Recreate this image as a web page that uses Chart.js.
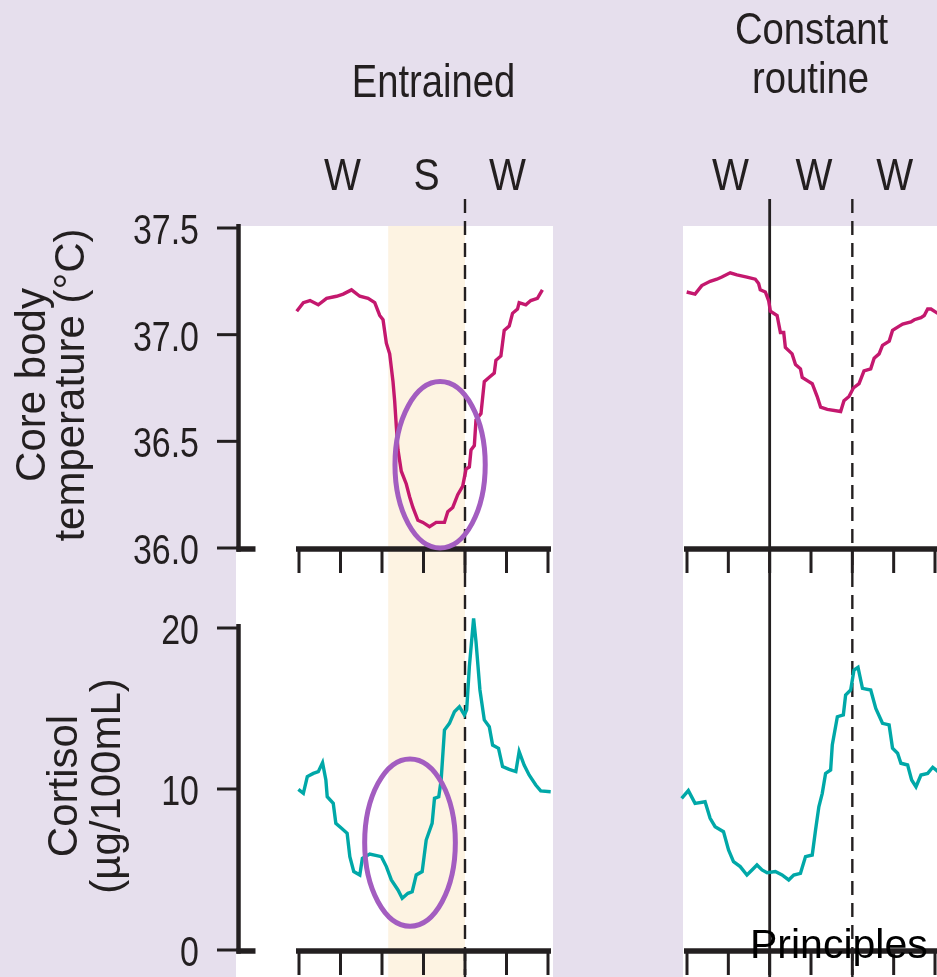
<!DOCTYPE html>
<html>
<head>
<title>Core body temperature and cortisol: entrained vs constant routine</title>
<script src="https://cdn.jsdelivr.net/npm/chart.js"></script>
<style>
  html, body { margin: 0; padding: 0; }
  body { width: 937px; height: 977px; position: relative; overflow: hidden; background: #e6dfed; }
  .panel { position: absolute; background: #ffffff; }
  canvas { position: absolute; left: 0; top: 0; }
</style>
</head>
<body>
<div class="panel" style="left:236px; top:226px; width:317px; height:751px;"></div>
<div class="panel" style="left:683px; top:226px; width:254px; height:751px;"></div>
<canvas id="tempEntrained" width="937" height="977"></canvas>
<canvas id="tempConstant" width="937" height="977"></canvas>
<canvas id="cortEntrained" width="937" height="977"></canvas>
<canvas id="cortConstant" width="937" height="977"></canvas>

<script>
// ---- data (hours from start of panel) ----
const tempEntrainedHours = [-0.70, -0.22, 0.42, 1.06, 1.86, 2.66, 3.62, 4.26, 5.06, 5.86,
  6.66, 7.30, 7.78, 8.10, 8.42, 8.74, 9.06, 9.22, 9.38, 9.54,
  9.86, 10.34, 10.66, 10.98, 11.46, 11.94, 12.58, 13.22, 14.02, 14.34,
  14.82, 15.30, 15.78, 16.10, 16.42, 16.58, 16.90, 17.06, 17.54, 17.86,
  18.34, 18.82, 18.98, 19.46, 19.78, 20.26, 20.58, 21.06, 21.22, 21.86,
  22.34, 22.98, 23.46];
const tempEntrained = [37.12, 37.11, 37.15, 37.16, 37.14, 37.17, 37.18, 37.19, 37.21, 37.18,
  37.17, 37.15, 37.09, 37.07, 36.96, 36.91, 36.78, 36.69, 36.57, 36.46,
  36.36, 36.30, 36.24, 36.19, 36.13, 36.12, 36.10, 36.12, 36.12, 36.17,
  36.19, 36.25, 36.29, 36.37, 36.38, 36.46, 36.48, 36.60, 36.63, 36.78,
  36.80, 36.82, 36.88, 36.90, 37.02, 37.04, 37.10, 37.12, 37.15, 37.14,
  37.16, 37.17, 37.21];

const tempConstantHours = [-0.03, 0.78, 1.43, 2.24, 2.89, 3.37, 4.18, 4.83, 5.80, 6.61,
  6.93, 7.09, 7.58, 7.90, 8.07, 8.72, 9.04, 9.36, 9.52, 10.17,
  10.50, 10.98, 11.15, 11.79, 12.12, 12.60, 12.93, 13.58, 14.87, 15.19,
  15.68, 16.10, 16.65, 17.13, 17.78, 18.11, 18.59, 18.92, 19.57, 19.89,
  20.54, 20.87, 21.67, 22.00, 22.64, 22.96, 23.29, 23.61, 24.26];
const tempConstant = [37.20, 37.19, 37.23, 37.25, 37.26, 37.27, 37.29, 37.28, 37.27, 37.26,
  37.24, 37.21, 37.20, 37.16, 37.11, 37.09, 37.01, 37.01, 36.94, 36.91,
  36.86, 36.84, 36.80, 36.78, 36.77, 36.71, 36.66, 36.65, 36.64, 36.69,
  36.71, 36.75, 36.77, 36.83, 36.84, 36.89, 36.91, 36.95, 36.97, 37.02,
  37.04, 37.05, 37.06, 37.07, 37.08, 37.09, 37.12, 37.12, 37.10];

const cortEntrainedHours = [-0.06, 0.42, 0.80, 1.38, 1.86, 2.27, 2.59, 2.72, 3.30, 3.55,
  4.10, 4.64, 4.90, 5.28, 5.86, 6.11, 6.82, 7.94, 8.42, 8.90,
  9.54, 9.95, 10.50, 10.91, 11.30, 11.87, 12.26, 12.83, 13.06, 13.47,
  13.70, 14.02, 14.50, 14.98, 15.46, 15.94, 16.16, 16.42, 16.83, 17.06,
  17.44, 17.86, 18.34, 18.66, 19.23, 19.62, 20.26, 20.90, 21.22, 21.70,
  22.18, 22.82, 23.30, 24.26];
const cortEntrained = [9.98, 9.73, 10.77, 10.97, 11.08, 11.64, 10.56, 9.52, 9.11, 7.87,
  7.56, 7.25, 5.80, 4.87, 4.66, 5.70, 5.96, 5.80, 5.18, 4.35,
  3.73, 3.21, 3.52, 3.62, 4.66, 4.87, 6.83, 7.87, 9.42, 9.52,
  10.56, 13.66, 14.08, 14.80, 15.11, 14.60, 14.91, 17.60, 20.60, 19.15,
  16.15, 14.29, 13.87, 12.73, 12.53, 11.39, 11.22, 11.08, 12.32, 11.49,
  10.87, 10.25, 9.88, 9.83];

const cortConstantHours = [-0.52, 0.13, 0.78, 1.75, 2.24, 2.72, 3.53, 4.02, 4.50, 5.15,
  5.80, 6.29, 6.77, 7.26, 7.75, 8.55, 9.20, 9.84, 10.33, 10.98,
  11.47, 12.12, 12.44, 12.76, 13.09, 13.41, 13.90, 14.06, 14.55, 15.13,
  15.35, 15.84, 16.16, 16.55, 16.98, 17.78, 18.27, 18.92, 19.56, 19.89,
  20.38, 20.70, 21.35, 21.74, 22.16, 22.64, 23.29, 23.78, 24.30];
const cortConstant = [9.42, 9.90, 9.11, 9.21, 8.18, 7.66, 7.35, 6.21, 5.49, 5.18,
  4.66, 4.97, 5.28, 4.97, 4.80, 4.87, 4.66, 4.35, 4.66, 4.76,
  5.80, 5.90, 7.45, 8.90, 9.73, 10.97, 11.18, 12.73, 14.49, 14.60,
  15.84, 16.15, 17.39, 17.56, 16.25, 16.15, 15.01, 14.08, 13.98, 12.53,
  12.22, 11.60, 11.49, 10.56, 10.14, 10.87, 10.97, 11.35, 11.08];

const hourTicks = [0, 4, 8, 12, 16, 20, 24];
const tempTicks = [36.0, 36.5, 37.0, 37.5];
const cortTicks = [0, 10, 20];
const sleepPeriod = [8.6, 16];
const entrainedPhases = ['W', 'S', 'W'];
const constantPhases = ['W', 'W', 'W'];
const phaseHours = [4.2, 12.3, 20.1];

// ---- layout ----
const PAGE_W = 937, PAGE_H = 977;
const WHITE_TOP = 226, MARK_TOP = 199;
const leftCols = { left: 299, right: 548 };
const rightCols = { left: 687, right: 935 };
const tempRows = { top: 228, bottom: 548 };
const cortRows = { top: 628, bottom: 950 };
const Y_AXIS_X = 238.5;
const INK = '#231f20';
const FONT = '"Liberation Sans", Arial, Helvetica, sans-serif';

function drawText(ctx, str, x, y, size, sx, align, rotate, color) {
  ctx.save();
  ctx.translate(x, y);
  if (rotate) ctx.rotate(rotate);
  ctx.scale(sx, 1);
  ctx.font = size + 'px ' + FONT;
  ctx.fillStyle = color || INK;
  ctx.textAlign = align;
  ctx.textBaseline = 'alphabetic';
  ctx.fillText(str, 0, 0);
  ctx.restore();
}

function drawLine(ctx, x1, y1, x2, y2, w, dash) {
  ctx.save();
  ctx.strokeStyle = INK;
  ctx.lineWidth = w;
  ctx.setLineDash(dash || []);
  ctx.beginPath();
  ctx.moveTo(x1, y1);
  ctx.lineTo(x2, y2);
  ctx.stroke();
  ctx.restore();
}

const panelDecor = {
  id: 'panelDecor',
  beforeDatasetsDraw(chart, args, o) {
    const ctx = chart.ctx, x = chart.scales.x;
    if (o.band) {
      const x1 = x.getPixelForValue(o.band[0]), x2 = x.getPixelForValue(o.band[1]);
      ctx.save();
      ctx.fillStyle = '#fdf3e2';
      ctx.fillRect(x1, WHITE_TOP, x2 - x1, PAGE_H - WHITE_TOP);
      ctx.restore();
    }
    (o.solid || []).forEach(h => {
      const px = x.getPixelForValue(h);
      drawLine(ctx, px, MARK_TOP, px, PAGE_H, 2.8);
    });
    (o.dashed || []).forEach(h => {
      const px = x.getPixelForValue(h);
      drawLine(ctx, px, MARK_TOP, px, PAGE_H, 2.4, [14, 8]);
    });
  },
  afterDatasetsDraw(chart, args, o) {
    const ctx = chart.ctx, x = chart.scales.x, y = chart.scales.y;
    const axisY = chart.chartArea.bottom + 1;
    // time axis with hanging ticks
    drawLine(ctx, x.getPixelForValue(0) - 3, axisY, Math.min(x.getPixelForValue(24) + 3, PAGE_W), axisY, 5.5);
    hourTicks.forEach(h => {
      const px = x.getPixelForValue(h);
      drawLine(ctx, px, axisY, px, axisY + 24, 3);
    });
    // value axis
    if (o.yTicks) {
      const top = y.getPixelForValue(y.max);
      drawLine(ctx, Y_AXIS_X, top - 4, Y_AXIS_X, axisY + 2.75, 4.5);
      drawLine(ctx, Y_AXIS_X - 2, axisY, Y_AXIS_X + 17, axisY, 5.5);
      o.yTicks.forEach(v => {
        const py = y.getPixelForValue(v);
        drawLine(ctx, 217, py, Y_AXIS_X, py, 3);
        drawText(ctx, v.toFixed(o.decimals), 199, py + 16, 43, 0.79, 'right');
      });
      const mid = (top + y.getPixelForValue(y.min)) / 2 - 3;
      o.yTitle.forEach((t, i) => drawText(ctx, t, o.yTitleBase[i], mid, 42, 1, 'center', -Math.PI / 2));
    }
    if (o.ellipse) {
      const e = o.ellipse;
      const cx = x.getPixelForValue(e.x), cy = y.getPixelForValue(e.y);
      const rx = Math.abs(x.getPixelForValue(e.x + e.rx) - cx);
      const ry = Math.abs(y.getPixelForValue(e.y + e.ry) - cy);
      ctx.save();
      ctx.strokeStyle = '#a35dc0';
      ctx.lineWidth = 5;
      ctx.beginPath();
      ctx.ellipse(cx, cy, rx, ry, 0, 0, 2 * Math.PI);
      ctx.stroke();
      ctx.restore();
    }
  },
  afterDraw(chart, args, o) {
    const ctx = chart.ctx, x = chart.scales.x;
    if (o.phases) {
      o.phases.forEach((p, i) => drawText(ctx, p, x.getPixelForValue(phaseHours[i]), 190, 45, 0.87, 'center'));
    }
    (o.texts || []).forEach(t => drawText(ctx, t[0], t[1], t[2], t[3], t[4], t[5], 0, t[6]));
  }
};

function makePanel(id, hours, values, color, cols, rows, yRange, decor) {
  return new Chart(document.getElementById(id), {
    type: 'line',
    data: {
      datasets: [{
        data: hours.map((h, i) => ({ x: h, y: values[i] })),
        borderColor: color,
        borderWidth: 3.4,
        pointRadius: 0,
        tension: 0,
        fill: false,
        clip: false
      }]
    },
    options: {
      responsive: false,
      animation: false,
      devicePixelRatio: 1,
      events: [],
      layout: {
        padding: { left: cols.left, right: PAGE_W - cols.right, top: rows.top, bottom: PAGE_H - rows.bottom }
      },
      scales: {
        x: { type: 'linear', display: false, min: 0, max: 24 },
        y: { type: 'linear', display: false, min: yRange[0], max: yRange[1] }
      },
      plugins: {
        legend: { display: false },
        tooltip: { enabled: false },
        panelDecor: decor
      }
    },
    plugins: [panelDecor]
  });
}

const TEMP_COLOR = '#c4186e';
const CORT_COLOR = '#00a8a8';

makePanel('tempEntrained', tempEntrainedHours, tempEntrained, TEMP_COLOR, leftCols, tempRows, [36.0, 37.5], {
  band: sleepPeriod,
  dashed: [16],
  yTicks: tempTicks,
  decimals: 1,
  yTitle: ['Core body', 'temperature (°C)'],
  yTitleBase: [45, 84],
  ellipse: { x: 13.6, y: 36.39, rx: 4.35, ry: 0.39 },
  phases: entrainedPhases,
  texts: [['Entrained', 433.5, 97, 46, 0.83, 'center']]
});

makePanel('tempConstant', tempConstantHours, tempConstant, TEMP_COLOR, rightCols, tempRows, [36.0, 37.5], {
  solid: [8],
  dashed: [16],
  phases: constantPhases,
  texts: [['Constant', 811.5, 44, 44, 0.87, 'center'], ['routine', 810.5, 93, 44, 0.87, 'center']]
});

makePanel('cortEntrained', cortEntrainedHours, cortEntrained, CORT_COLOR, leftCols, cortRows, [0, 20], {
  yTicks: cortTicks,
  decimals: 0,
  yTitle: ['Cortisol', '(µg/100mL)'],
  yTitleBase: [77, 120],
  ellipse: { x: 10.7, y: 6.67, rx: 4.37, ry: 5.2 }
});

makePanel('cortConstant', cortConstantHours, cortConstant, CORT_COLOR, rightCols, cortRows, [0, 20], {
  texts: [['Principles', 750, 958, 41, 1, 'left', '#000000']]
});
</script>
</body>
</html>
